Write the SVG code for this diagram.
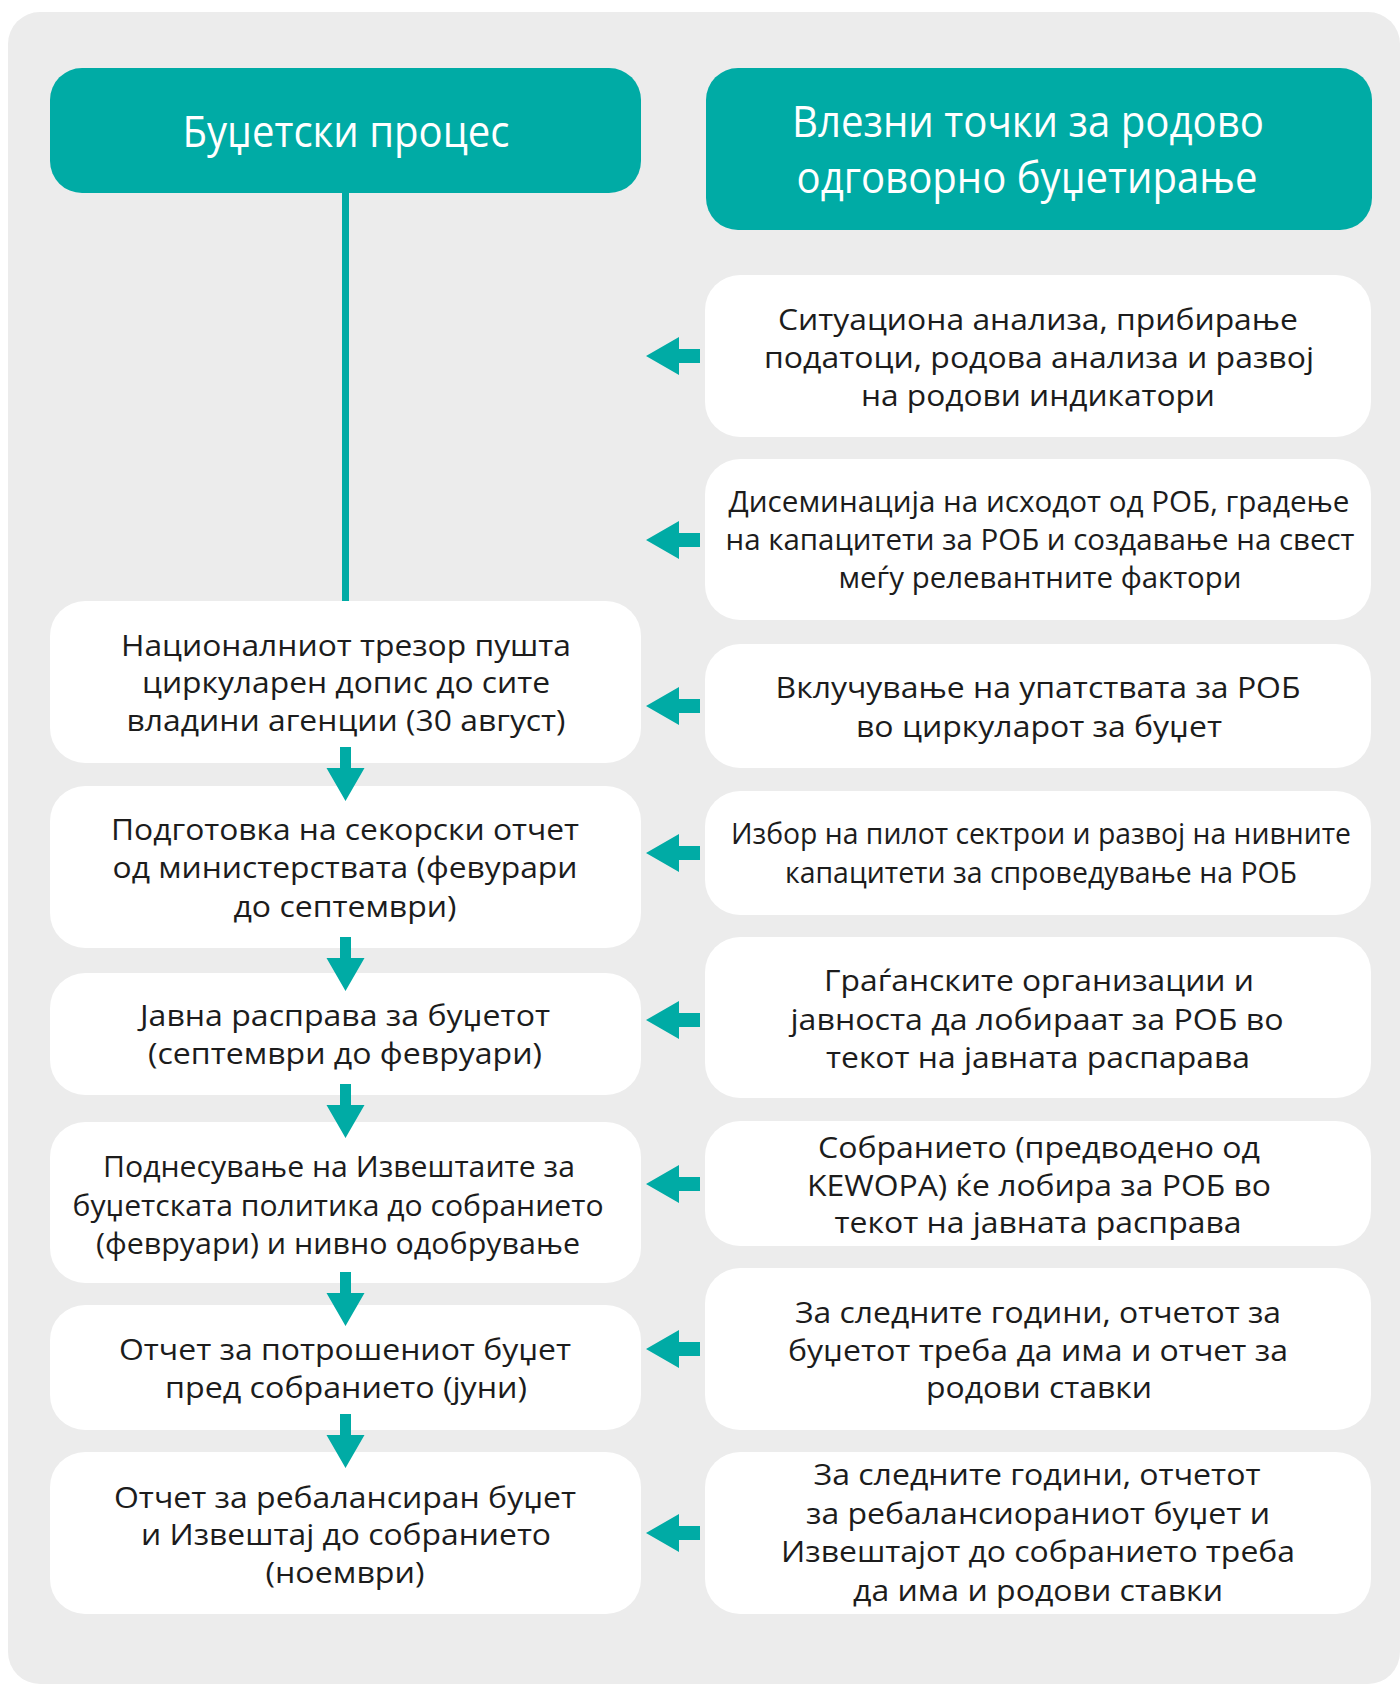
<svg xmlns="http://www.w3.org/2000/svg" xmlns:xlink="http://www.w3.org/1999/xlink" width="1400" height="1684" viewBox="0 0 1400 1684">
<style>
.bg{fill:#ececec}
.hdr{fill:#00aba5}
.box{fill:#ffffff}
.teal{fill:#00aba5}
.ht{font-family:"Open Sans","Noto Sans",sans-serif;font-size:44px;fill:#ffffff;text-anchor:middle}
.t{font-family:"Open Sans","Noto Sans",sans-serif;font-size:30px;fill:#1c1c1c;text-anchor:middle}
</style>
<defs>
<path id="down" class="teal" d="M-5.5,0 H5.5 V21 H19 L0,54 L-19,21 H-5.5 Z"/>
<path id="left" class="teal" d="M0,0 L33,-19 V-7 H54 V7 H33 V19 Z"/>
</defs>
<rect class="bg" x="8" y="12" width="1392" height="1672" rx="32" ry="32"/>

<g id="header-left">
<rect class="hdr" x="50" y="68" width="591" height="125" rx="32"/>
<text class="ht" x="346" y="147" textLength="327" lengthAdjust="spacingAndGlyphs">Буџетски процес</text>
</g>
<g id="header-right">
<rect class="hdr" x="706" y="68" width="666" height="162" rx="32"/>
<text class="ht" x="1028" y="137" textLength="472" lengthAdjust="spacingAndGlyphs">Влезни точки за родово</text>
<text class="ht" x="1027" y="193" textLength="461" lengthAdjust="spacingAndGlyphs">одговорно буџетирање</text>
</g>

<g id="L1">
<rect class="box" x="50" y="601" width="591" height="162" rx="35"/>
<text class="t" x="346" y="656" textLength="450" lengthAdjust="spacingAndGlyphs">Националниот трезор пушта</text>
<text class="t" x="346" y="693" textLength="408" lengthAdjust="spacingAndGlyphs">циркуларен допис до сите</text>
<text class="t" x="346" y="731" textLength="439" lengthAdjust="spacingAndGlyphs">владини агенции (30 август)</text>
</g>
<g id="L2">
<rect class="box" x="50" y="786" width="591" height="162" rx="35"/>
<text class="t" x="345" y="840" textLength="468" lengthAdjust="spacingAndGlyphs">Подготовка на секорски отчет</text>
<text class="t" x="345" y="878" textLength="465" lengthAdjust="spacingAndGlyphs">од министерствата (февурари</text>
<text class="t" x="345" y="917" textLength="223" lengthAdjust="spacingAndGlyphs">до септември)</text>
</g>
<g id="L3">
<rect class="box" x="50" y="973" width="591" height="122" rx="35"/>
<text class="t" x="345" y="1026" textLength="410" lengthAdjust="spacingAndGlyphs">Јавна расправа за буџетот</text>
<text class="t" x="345" y="1064" textLength="394" lengthAdjust="spacingAndGlyphs">(септември до февруари)</text>
</g>
<g id="L4">
<rect class="box" x="50" y="1122" width="591" height="161" rx="35"/>
<text class="t" x="339" y="1177" textLength="472" lengthAdjust="spacingAndGlyphs">Поднесување на Извештаите за</text>
<text class="t" x="338" y="1216" textLength="531" lengthAdjust="spacingAndGlyphs">буџетската политика до собранието</text>
<text class="t" x="338" y="1254" textLength="484" lengthAdjust="spacingAndGlyphs">(февруари) и нивно одобрување</text>
</g>
<g id="L5">
<rect class="box" x="50" y="1305" width="591" height="125" rx="35"/>
<text class="t" x="345" y="1360" textLength="452" lengthAdjust="spacingAndGlyphs">Отчет за потрошениот буџет</text>
<text class="t" x="346" y="1398" textLength="362" lengthAdjust="spacingAndGlyphs">пред собранието (јуни)</text>
</g>
<g id="L6">
<rect class="box" x="50" y="1452" width="591" height="162" rx="35"/>
<text class="t" x="345" y="1508" textLength="462" lengthAdjust="spacingAndGlyphs">Отчет за ребалансиран буџет</text>
<text class="t" x="346" y="1545" textLength="410" lengthAdjust="spacingAndGlyphs">и Извештај до собранието</text>
<text class="t" x="345" y="1583" textLength="159" lengthAdjust="spacingAndGlyphs">(ноември)</text>
</g>

<g id="R1">
<rect class="box" x="705" y="275" width="666" height="162" rx="35"/>
<text class="t" x="1038" y="330" textLength="520" lengthAdjust="spacingAndGlyphs">Ситуациона анализа, прибирање</text>
<text class="t" x="1039" y="368" textLength="550" lengthAdjust="spacingAndGlyphs">податоци, родова анализа и развој</text>
<text class="t" x="1038" y="406" textLength="354" lengthAdjust="spacingAndGlyphs">на родови индикатори</text>
</g>
<g id="R2">
<rect class="box" x="705" y="459" width="666" height="161" rx="35"/>
<text class="t" x="1039" y="512" textLength="621" lengthAdjust="spacingAndGlyphs">Дисеминација на исходот од РОБ, градење</text>
<text class="t" x="1040" y="550" textLength="629" lengthAdjust="spacingAndGlyphs">на капацитети за РОБ и создавање на свест</text>
<text class="t" x="1040" y="588" textLength="403" lengthAdjust="spacingAndGlyphs">меѓу релевантните фактори</text>
</g>
<g id="R3">
<rect class="box" x="705" y="644" width="666" height="124" rx="35"/>
<text class="t" x="1038" y="698" textLength="525" lengthAdjust="spacingAndGlyphs">Вклучување на упатствата за РОБ</text>
<text class="t" x="1039" y="737" textLength="366" lengthAdjust="spacingAndGlyphs">во циркуларот за буџет</text>
</g>
<g id="R4">
<rect class="box" x="705" y="791" width="666" height="124" rx="35"/>
<text class="t" x="1041" y="844" textLength="620" lengthAdjust="spacingAndGlyphs">Избор на пилот сектрои и развој на нивните</text>
<text class="t" x="1041" y="883" textLength="512" lengthAdjust="spacingAndGlyphs">капацитети за спроведување на РОБ</text>
</g>
<g id="R5">
<rect class="box" x="705" y="937" width="666" height="161" rx="35"/>
<text class="t" x="1039" y="991" textLength="430" lengthAdjust="spacingAndGlyphs">Граѓанските организации и</text>
<text class="t" x="1037" y="1030" textLength="493" lengthAdjust="spacingAndGlyphs">јавноста да лобираат за РОБ во</text>
<text class="t" x="1038" y="1068" textLength="424" lengthAdjust="spacingAndGlyphs">текот на јавната распарава</text>
</g>
<g id="R6">
<rect class="box" x="705" y="1121" width="666" height="125" rx="35"/>
<text class="t" x="1039" y="1158" textLength="442" lengthAdjust="spacingAndGlyphs">Собранието (предводено од</text>
<text class="t" x="1039" y="1196" textLength="464" lengthAdjust="spacingAndGlyphs">KEWOPA) ќе лобира за РОБ во</text>
<text class="t" x="1038" y="1233" textLength="407" lengthAdjust="spacingAndGlyphs">текот на јавната расправа</text>
</g>
<g id="R7">
<rect class="box" x="705" y="1268" width="666" height="162" rx="35"/>
<text class="t" x="1038" y="1323" textLength="486" lengthAdjust="spacingAndGlyphs">За следните години, отчетот за</text>
<text class="t" x="1038" y="1361" textLength="500" lengthAdjust="spacingAndGlyphs">буџетот треба да има и отчет за</text>
<text class="t" x="1039" y="1398" textLength="226" lengthAdjust="spacingAndGlyphs">родови ставки</text>
</g>
<g id="R8">
<rect class="box" x="705" y="1452" width="666" height="162" rx="35"/>
<text class="t" x="1037" y="1485" textLength="447" lengthAdjust="spacingAndGlyphs">За следните години, отчетот</text>
<text class="t" x="1038" y="1524" textLength="464" lengthAdjust="spacingAndGlyphs">за ребалансиораниот буџет и</text>
<text class="t" x="1038" y="1562" textLength="514" lengthAdjust="spacingAndGlyphs">Извештајот до собранието треба</text>
<text class="t" x="1038" y="1601" textLength="370" lengthAdjust="spacingAndGlyphs">да има и родови ставки</text>
</g>

<g id="connectors">
<rect class="teal" x="342" y="188" width="7" height="413"/>
<use xlink:href="#down" x="345.5" y="747"/>
<use xlink:href="#down" x="345.5" y="937"/>
<use xlink:href="#down" x="345.5" y="1084"/>
<use xlink:href="#down" x="345.5" y="1272"/>
<use xlink:href="#down" x="345.5" y="1414"/>
<use xlink:href="#left" x="646" y="356"/>
<use xlink:href="#left" x="646" y="540"/>
<use xlink:href="#left" x="646" y="706"/>
<use xlink:href="#left" x="646" y="853"/>
<use xlink:href="#left" x="646" y="1020"/>
<use xlink:href="#left" x="646" y="1184"/>
<use xlink:href="#left" x="646" y="1349"/>
<use xlink:href="#left" x="646" y="1533"/>
</g>
</svg>
